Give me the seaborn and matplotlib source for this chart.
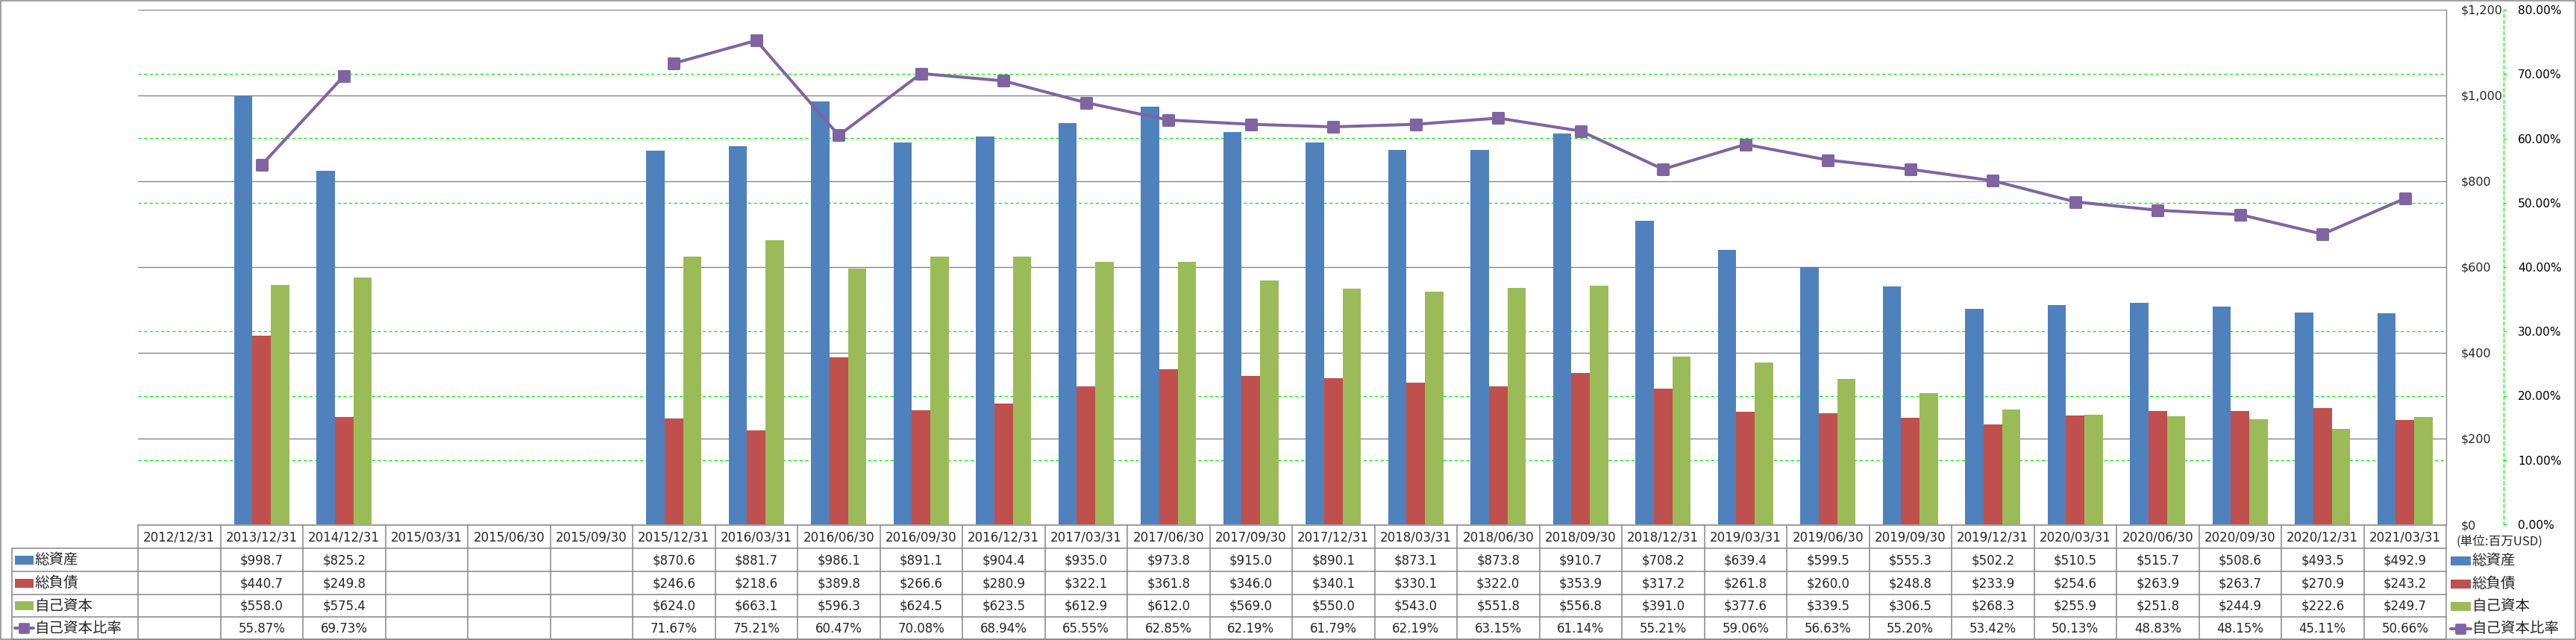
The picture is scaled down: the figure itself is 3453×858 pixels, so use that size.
import numpy as np
import pandas as pd
import matplotlib
matplotlib.use("Agg")
import matplotlib.pyplot as plt
import seaborn as sns
from matplotlib.transforms import blended_transform_factory
from matplotlib.patches import Rectangle
from matplotlib.lines import Line2D
from matplotlib.markers import MarkerStyle
from matplotlib.ticker import FuncFormatter, MultipleLocator

nan = np.nan
dates = ["2012/12/31", "2013/12/31", "2014/12/31", "2015/03/31", "2015/06/30", "2015/09/30",
         "2015/12/31", "2016/03/31", "2016/06/30", "2016/09/30", "2016/12/31", "2017/03/31",
         "2017/06/30", "2017/09/30", "2017/12/31", "2018/03/31", "2018/06/30", "2018/09/30",
         "2018/12/31", "2019/03/31", "2019/06/30", "2019/09/30", "2019/12/31", "2020/03/31",
         "2020/06/30", "2020/09/30", "2020/12/31", "2021/03/31"]
total_assets = [nan, 998.7, 825.2, nan, nan, nan, 870.6, 881.7, 986.1, 891.1, 904.4, 935.0,
                973.8, 915.0, 890.1, 873.1, 873.8, 910.7, 708.2, 639.4, 599.5, 555.3, 502.2,
                510.5, 515.7, 508.6, 493.5, 492.9]
total_liabilities = [nan, 440.7, 249.8, nan, nan, nan, 246.6, 218.6, 389.8, 266.6, 280.9, 322.1,
                     361.8, 346.0, 340.1, 330.1, 322.0, 353.9, 317.2, 261.8, 260.0, 248.8, 233.9,
                     254.6, 263.9, 263.7, 270.9, 243.2]
equity = [nan, 558.0, 575.4, nan, nan, nan, 624.0, 663.1, 596.3, 624.5, 623.5, 612.9,
          612.0, 569.0, 550.0, 543.0, 551.8, 556.8, 391.0, 377.6, 339.5, 306.5, 268.3,
          255.9, 251.8, 244.9, 222.6, 249.7]
equity_ratio = [nan, 55.87, 69.73, nan, nan, nan, 71.67, 75.21, 60.47, 70.08, 68.94, 65.55,
                62.85, 62.19, 61.79, 62.19, 63.15, 61.14, 55.21, 59.06, 56.63, 55.20, 53.42,
                50.13, 48.83, 48.15, 45.11, 50.66]
series_names = ["総資産", "総負債", "自己資本"]
ratio_name = "自己資本比率"
unit_label = "(単位:百万USD)"
colors = ["#4F81BD", "#C0504D", "#9BBB59"]
line_color = "#8064A2"

sns.set_style("white")
plt.rcParams["font.family"] = ["DejaVu Sans", "Noto Sans CJK JP"]
JP = ["Noto Sans CJK JP", "DejaVu Sans"]

W, H = 3453, 858
fig = plt.figure(figsize=(W / 100, H / 100), dpi=100)
PL, PR, PT, PB = 185, 3279, 13, 703
ax = fig.add_axes([PL / W, 1 - PB / H, (PR - PL) / W, (PB - PT) / H])
ax.patch.set_visible(False)

df = pd.DataFrame({"date": dates, series_names[0]: total_assets,
                   series_names[1]: total_liabilities, series_names[2]: equity})
long = df.melt(id_vars="date", var_name="series", value_name="value")
sns.barplot(data=long, x="date", y="value", hue="series", order=dates, hue_order=series_names,
            palette=colors, width=0.67, saturation=1, linewidth=0, legend=False, ax=ax,
            errorbar=None)
n = len(dates)

ax2 = ax.twinx()
ld = pd.DataFrame({"pos": np.arange(n), "ratio": equity_ratio})
ld["seg"] = ld["ratio"].isna().cumsum()
ld = ld.dropna()
sns.lineplot(data=ld, x="pos", y="ratio", units="seg", estimator=None, color=line_color,
             lw=2.9, marker=MarkerStyle("s", joinstyle="round"), ms=10.5, mew=2.2,
             mec=line_color, mfc=line_color, legend=False, ax=ax2, sort=True)

# primary axis (right side labels, no ticks)
ax.set_xlim(-0.5, n - 0.5)
ax.set_ylim(0, 1200)
ax.yaxis.set_major_locator(MultipleLocator(200))
ax.yaxis.set_minor_locator(MultipleLocator(150))
ax.yaxis.set_major_formatter(FuncFormatter(lambda v, p: f"${v:,.0f}"))
ax.grid(False)
ax.yaxis.grid(True, which="major", color="#868686", lw=1.0)
ax.yaxis.grid(True, which="minor", color="#00FF00", lw=1.0, ls=(0, (3, 2.5)))
ax.set_axisbelow(True)
ax.yaxis.tick_right()
ax.tick_params(axis="y", which="both", length=0, left=False, right=True,
               labelleft=False, labelright=True, pad=14.4, labelsize=11.5)
ax.tick_params(axis="x", length=0, labelbottom=False)
ax.set_xlabel("")
ax.set_ylabel("")
for s in ["top", "left", "bottom"]:
    ax.spines[s].set_visible(False)
ax.spines["right"].set_color("#868686")
ax.spines["right"].set_linewidth(1.0)

# secondary axis
ax2.set_ylim(0, 80)
ax2.set_xlim(-0.5, n - 0.5)
ax2.yaxis.set_major_locator(MultipleLocator(10))
ax2.yaxis.set_major_formatter(FuncFormatter(lambda v, p: f"{v:.2f}%"))
ax2.tick_params(axis="y", direction="out", length=3, width=1, color="#00FF00",
                pad=10.8, labelsize=11.2, labelcolor="black")
ax2.tick_params(axis="x", length=0, labelbottom=False)
ax2.set_xlabel("")
ax2.set_ylabel("")
for s in ["top", "left", "bottom"]:
    ax2.spines[s].set_visible(False)
ax2.spines["right"].set_position(("outward", 55.4))
ax2.spines["right"].set_color("#00FF00")
ax2.spines["right"].set_linestyle((0, (3, 2.5)))
ax2.spines["right"].set_linewidth(1.0)

# overlay for data table (pixel coordinates)
ov = fig.add_axes([0, 0, 1, 1], zorder=5)
ov.set_xlim(0, W)
ov.set_ylim(H, 0)
ov.set_axis_off()
tr = blended_transform_factory(ax.transData, ov.transData)
gc = "#868686"

ov.add_patch(Rectangle((0.8, 0.8), W - 1.6, H - 1.6, fill=False, ec=gc, lw=1.1))

TL = 16
rows_y = [704, 735, 766, 797, 827, 857]
ov.plot([PL, PR], [rows_y[0], rows_y[0]], color=gc, lw=1.1)
for y in rows_y[1:]:
    ov.plot([TL, PR], [y, y], color=gc, lw=1.1)
ov.plot([TL, TL], [rows_y[1], rows_y[-1]], color=gc, lw=1.1)
for i in range(n + 1):
    ov.plot([i - 0.5, i - 0.5], [rows_y[0], rows_y[-1]], color=gc, lw=1.1, transform=tr)

def fmt_money(v):
    return "" if np.isnan(v) else f"${v:,.1f}"

def fmt_pct(v):
    return "" if np.isnan(v) else f"{v:.2f}%"

centers = [(rows_y[k] + rows_y[k + 1]) / 2 for k in range(5)]
for i, d in enumerate(dates):
    ov.text(i, centers[0] + 1, d, transform=tr, ha="center", va="center", fontsize=12)
    for k, vals in enumerate([total_assets, total_liabilities, equity]):
        ov.text(i, centers[k + 1] + 1, fmt_money(vals[i]), transform=tr, ha="center",
                va="center", fontsize=12)
    ov.text(i, centers[4] + 1, fmt_pct(equity_ratio[i]), transform=tr, ha="center",
            va="center", fontsize=12)

def key(x0, yc, k, w=26):
    if k < 3:
        ov.add_patch(Rectangle((x0, yc - 6), w, 12, color=colors[k], lw=0))
    else:
        ov.add_line(Line2D([x0, x0 + w], [yc, yc], color=line_color, lw=2.9))
        ov.add_line(Line2D([x0 + w / 2], [yc], color=line_color,
                           marker=MarkerStyle("s", joinstyle="round"),
                           ms=8, mew=2, mec=line_color, mfc=line_color))

labels = series_names + [ratio_name]
for k, lab in enumerate(labels):
    yc = centers[k + 1]
    key(TL + 4, yc, k, 25)
    ov.text(TL + 31, yc, lab, ha="left", va="center", fontsize=14, family=JP)
    key(3285, yc + 1, k, 27)
    ov.text(3314, yc + 1, lab, ha="left", va="center", fontsize=14, family=JP)

ov.text(3293, 726, unit_label, ha="left", va="center", fontsize=12, family=JP)

fig.savefig("out.png", dpi=100)
